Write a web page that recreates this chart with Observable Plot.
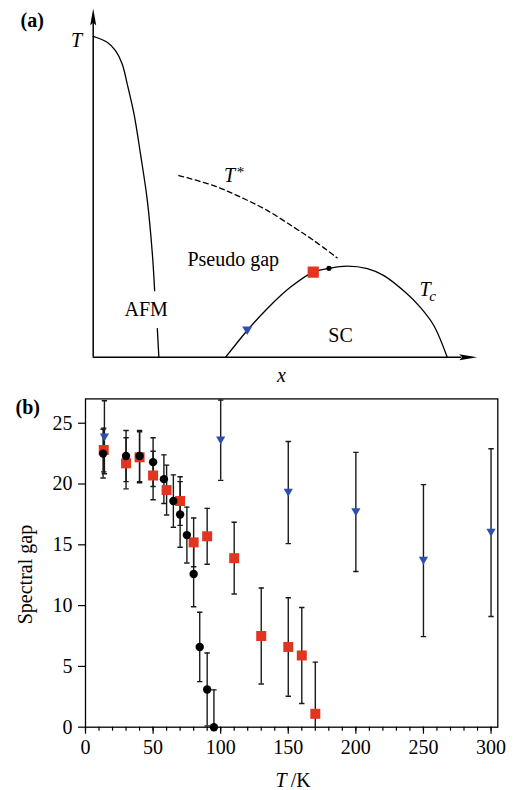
<!DOCTYPE html>
<html><head><meta charset="utf-8">
<script src="https://cdn.jsdelivr.net/npm/d3@7"></script>
<script src="https://cdn.jsdelivr.net/npm/@observablehq/plot@0.6"></script>
<style>
html,body{margin:0;padding:0;background:#fff;overflow:hidden;}
#a,#b{width:516px;}
svg{display:block;}
svg, svg text, svg g { font-family: "Liberation Serif", "Times New Roman", Times, serif !important; }
</style>
</head><body>
<div id="a"></div><div id="b"></div>
<script>
// ---------- Panel (a): schematic phase diagram (x = doping, T = temperature, both 0..1) ----------
const afmUpperX = [0, 0.0365, 0.058, 0.0755, 0.0885, 0.106, 0.123, 0.141, 0.154, 0.160];
const afmUpperT = [0.920, 0.903, 0.879, 0.841, 0.784, 0.699, 0.584, 0.449, 0.297, 0.191];
const afmLowerX = [0.167, 0.171];
const afmLowerT = [0.082, 0];
const tcX = [0.345, 0.401, 0.453, 0.514, 0.573, 0.614, 0.661, 0.714, 0.757, 0.813, 0.852, 0.887, 0.922];
const tcT = [0, 0.0766, 0.139, 0.201, 0.244, 0.255, 0.261, 0.254, 0.234, 0.186, 0.143, 0.091, 0];
const tStarX = [0.223, 0.314, 0.384, 0.453, 0.522, 0.574, 0.635];
const tStarT = [0.521, 0.492, 0.459, 0.421, 0.373, 0.335, 0.285];
const sampleNames = ["blue", "red", "black"];
const sampleX = [0.401, 0.573, 0.614];
const sampleT = [0.0766, 0.244, 0.255];
const regionLabels = ["Pseudo gap", "AFM", "SC"];
const regionX = [0.3646, 0.138, 0.644];
const regionT = [0.279, 0.136, 0.061];

// ---------- Panel (b): spectral gap vs temperature ----------
const blackT   = [13, 30, 40, 50, 58, 65, 70, 75, 80, 84.5, 90, 95];
const blackGap = [22.5, 22.3, 22.3, 21.8, 20.4, 18.6, 17.5, 15.8, 12.6, 6.6, 3.1, 0];
const blackErr = [2.0, 2.1, 2.1, 2.0, 2.0, 2.15, 2.7, 2.3, 2.7, 2.85, 3.0, 3.07];
const redT   = [13.5, 30, 40, 50, 60, 70, 80, 90, 110, 130, 150, 160, 170];
const redGap = [22.8, 21.7, 22.2, 20.7, 19.5, 18.6, 15.2, 15.7, 13.9, 7.5, 6.6, 5.9, 1.1];
const redErr = [1.8, 2.1, 2.1, 2.0, 2.05, 2.0, 2.0, 2.3, 2.95, 3.95, 4.05, 3.95, 4.25];
const blueT   = [14, 100, 150, 200, 250, 300];
const blueGap = [23.85, 23.6, 19.3, 17.7, 13.7, 16.0];
const blueErr = [3.0, 3.3, 4.2, 4.9, 6.25, 6.9];
const xTicks = [0, 50, 100, 150, 200, 250, 300];
const xMinorTicks = d3.range(0, 301, 10);
const yTicks = [0, 5, 10, 15, 20, 25];

const RED = "#e2341f", BLUE = "#2f4fae";
const FONT = "Liberation Serif";

const pts = (X, Y) => X.map((x, i) => ({x, T: Y[i]}));
const rows = (T, g, e) => T.map((t, i) => ({T: t, gap: g[i], lo: g[i] - e[i], hi: g[i] + e[i]}));

// custom symbols
const upArrow = {draw(c){ c.moveTo(0,0); c.lineTo(3,17); c.lineTo(0,14); c.lineTo(-3,17); c.closePath(); }};
const rightArrow = {draw(c){ c.moveTo(0,0); c.lineTo(-18,-3); c.lineTo(-15,0); c.lineTo(-18,3); c.closePath(); }};
const downTri = {draw(c){ c.moveTo(-4.6,-3.8); c.lineTo(4.6,-3.8); c.lineTo(0,4.2); c.closePath(); }};
const downTriA = {draw(c){ c.moveTo(-5,-4); c.lineTo(5,-4); c.lineTo(0,4.5); c.closePath(); }};
const square10 = {draw(c){ c.rect(-5,-5,10,10); }};
const square11 = {draw(c){ c.rect(-5.6,-5.6,11.2,11.2); }};
const cap = {draw(c){ c.moveTo(-2.7,0); c.lineTo(2.7,0); }};

const samples = sampleNames.map((n, i) => ({n, x: sampleX[i], T: sampleT[i]}));
const regions = regionLabels.map((s, i) => ({s, x: regionX[i], T: regionT[i]}));

const txt = {fontFamily: FONT, fontSize: 20, textAnchor: "middle", lineAnchor: "middle"};

const panelA = Plot.plot({
  width: 516, height: 390,
  marginLeft: 92.7, marginRight: 39.3, marginTop: 8, marginBottom: 33.3,
  x: {domain: [0, 1], axis: null},
  y: {domain: [0, 1], axis: null},
  style: {fontFamily: FONT, fontSize: "20px", color: "black", background: "white"},
  marks: [
    Plot.ruleX([0], {y1: 0, y2: 0.96, stroke: "black", strokeWidth: 1.5}),
    Plot.ruleY([0], {x1: 0, x2: 0.96, stroke: "black", strokeWidth: 1.5}),
    Plot.dot([{x: 0, T: 1}], {x: "x", y: "T", symbol: upArrow, fill: "black", stroke: "none"}),
    Plot.dot([{x: 1, T: 0}], {x: "x", y: "T", symbol: rightArrow, fill: "black", stroke: "none"}),
    Plot.line(pts(afmUpperX, afmUpperT), {x: "x", y: "T", curve: "catmull-rom", stroke: "black", strokeWidth: 1.3}),
    Plot.line(pts(afmLowerX, afmLowerT), {x: "x", y: "T", stroke: "black", strokeWidth: 1.3}),
    Plot.line(pts(tcX, tcT), {x: "x", y: "T", curve: "catmull-rom", stroke: "black", strokeWidth: 1.3}),
    Plot.line(pts(tStarX, tStarT), {x: "x", y: "T", curve: "catmull-rom", stroke: "black", strokeWidth: 1.3, strokeDasharray: "5,3.5"}),
    Plot.dot(samples.filter(d => d.n === "blue"), {x: "x", y: "T", symbol: downTriA, fill: BLUE, stroke: "none"}),
    Plot.dot(samples.filter(d => d.n === "red"), {x: "x", y: "T", symbol: square11, fill: RED, stroke: "none"}),
    Plot.dot(samples.filter(d => d.n === "black"), {x: "x", y: "T", r: 2.6, fill: "black", stroke: "none"}),
    Plot.text(regions, {...txt, x: "x", y: "T", text: "s"}),
    Plot.text(["T"], {...txt, x: 0.355, y: 0.520, fontStyle: "italic"}),
    Plot.text(["*"], {...txt, x: 0.355, y: 0.520, dx: 11, dy: -3.5, fontSize: 15}),
    Plot.text(["T"], {...txt, x: 0.864, y: 0.195, fontStyle: "italic"}),
    Plot.text(["c"], {...txt, x: 0.864, y: 0.195, dx: 7.5, dy: 7, fontStyle: "italic", fontSize: 15}),
    Plot.text(["T"], {...txt, frameAnchor: "top-left", dx: -16.7, dy: 32.3, fontStyle: "italic"}),
    Plot.text(["x"], {...txt, frameAnchor: "bottom", dx: -3.7, dy: 18.6, fontStyle: "italic"}),
    Plot.text(["(a)"], {...txt, frameAnchor: "top-left", dx: -72.7, dy: 12, fontWeight: "bold", textAnchor: "start"})
  ]
});
document.getElementById("a").append(panelA);

const blackRows = rows(blackT, blackGap, blackErr);
const redRows = rows(redT, redGap, redErr);
const blueRows = rows(blueT, blueGap, blueErr);
const allRows = [...blueRows, ...redRows, ...blackRows];

const panelB = Plot.plot({
  width: 516, height: 400,
  marginLeft: 85, marginRight: 18.7, marginTop: 8.4, marginBottom: 63.3,
  x: {domain: [0, 305]},
  y: {domain: [0, 27]},
  style: {fontFamily: FONT, fontSize: "20px", color: "black", background: "white"},
  marks: [
    Plot.ruleX(allRows, {x: "T", y1: "lo", y2: "hi", stroke: "#1a1a1a", strokeWidth: 1.4, clip: true}),
    Plot.dot(allRows, {x: "T", y: "lo", symbol: cap, stroke: "#1a1a1a", strokeWidth: 1.4, fill: "none", clip: true}),
    Plot.dot(allRows, {x: "T", y: "hi", symbol: cap, stroke: "#1a1a1a", strokeWidth: 1.4, fill: "none", clip: true}),
    Plot.dot(blueRows, {x: "T", y: "gap", symbol: downTri, fill: BLUE, stroke: "none"}),
    Plot.dot(redRows, {x: "T", y: "gap", symbol: square10, fill: RED, stroke: "none"}),
    Plot.dot(blackRows, {x: "T", y: "gap", r: 4.2, fill: "black", stroke: "none"}),
    Plot.frame({stroke: "black", strokeWidth: 1.3}),
    Plot.axisX(xMinorTicks, {tickSize: 4, tickFormat: () => "", label: null, strokeWidth: 1.2}),
    Plot.axisX(xTicks, {tickSize: 7, tickPadding: 6, label: null, strokeWidth: 1.2, fontSize: 20, fontFamily: FONT}),
    Plot.axisY(yTicks, {tickSize: 7, tickPadding: 6, label: null, strokeWidth: 1.2, fontSize: 20, fontFamily: FONT}),
    Plot.text(["Spectral gap"], {...txt, frameAnchor: "left", rotate: -90, dx: -60, dy: 11.5}),
    Plot.text(["T"], {...txt, frameAnchor: "bottom", dx: -5, dy: 53.6, fontStyle: "italic", textAnchor: "end"}),
    Plot.text(["/K"], {...txt, frameAnchor: "bottom", dx: -1, dy: 53.6, textAnchor: "start"}),
    Plot.text(["(b)"], {...txt, frameAnchor: "top-left", dx: -70, dy: 8.2, fontWeight: "bold", textAnchor: "start"})
  ]
});
document.getElementById("b").append(panelB);
</script>
</body></html>
